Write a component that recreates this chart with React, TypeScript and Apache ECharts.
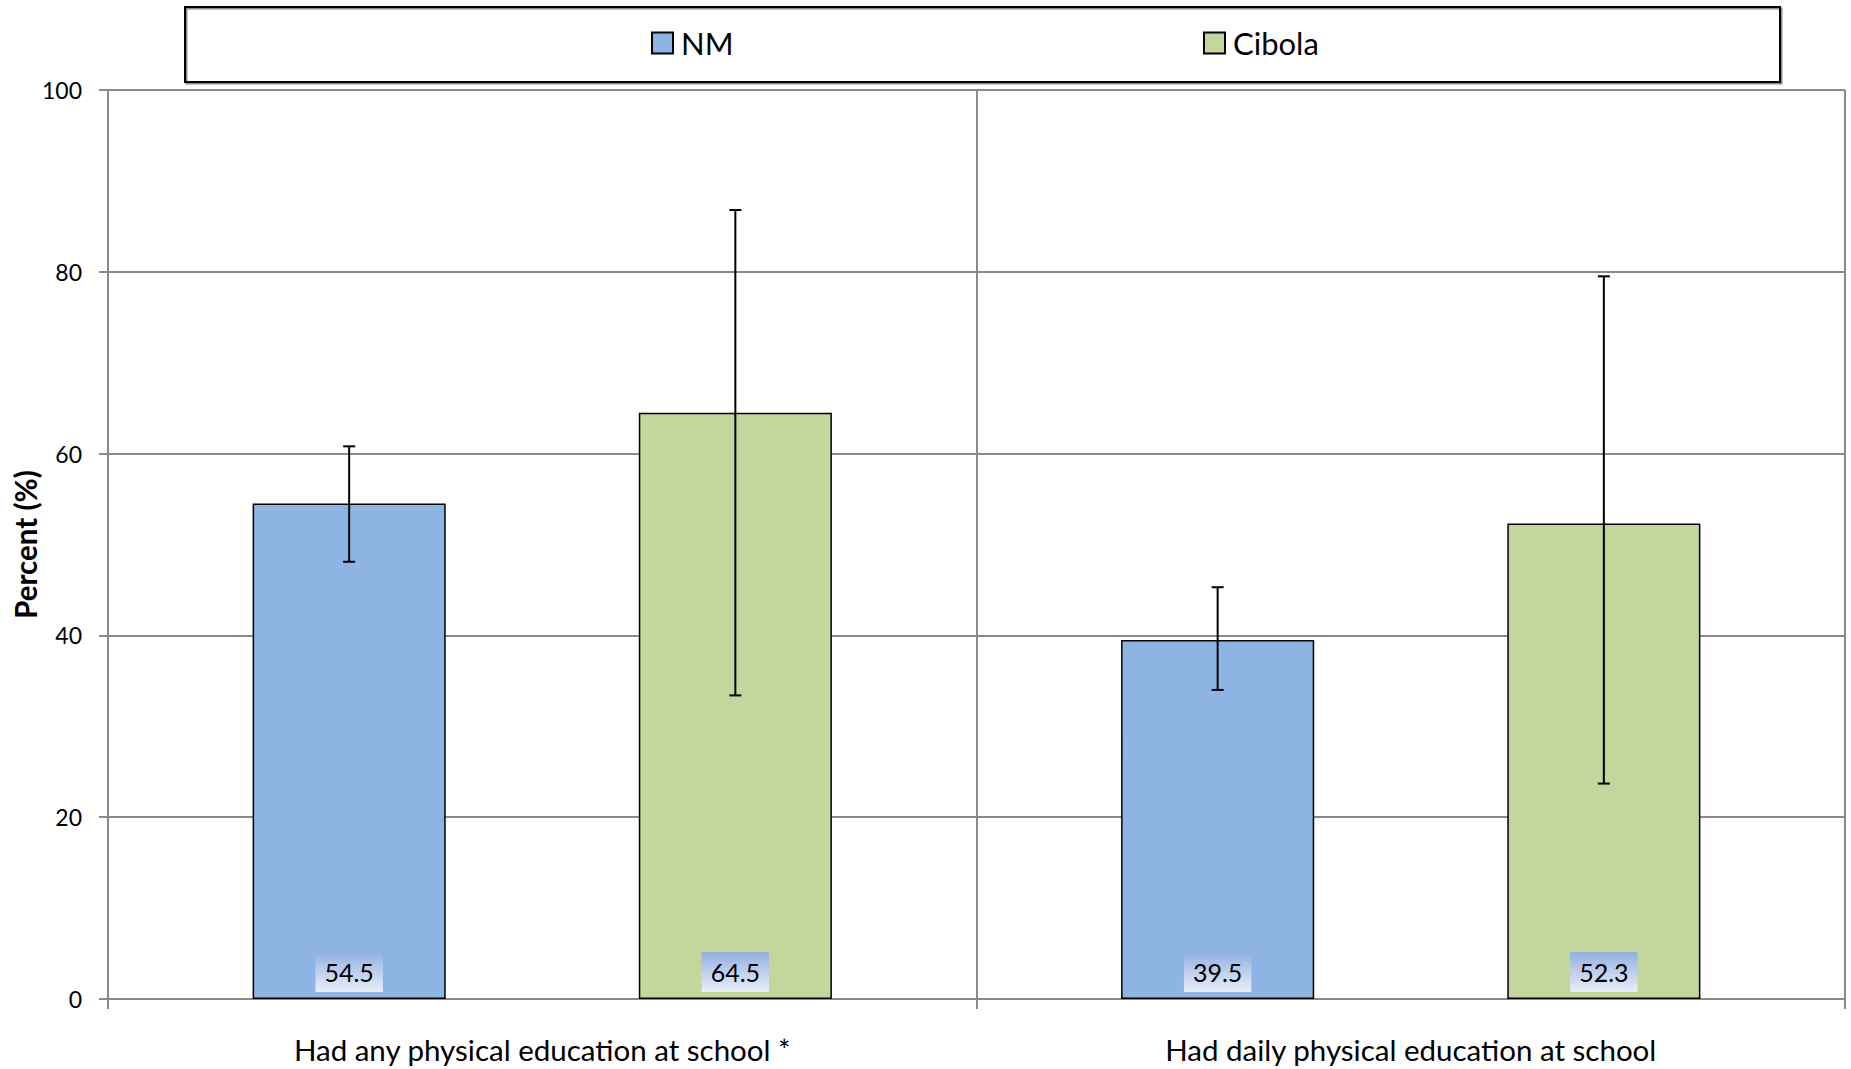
import React, { useEffect, useRef } from "react";
import * as echarts from "echarts";

const categories = [
  "Had any physical education at school *",
  "Had daily physical education at school",
];
const seriesNames = ["NM", "Cibola"];
const nmValues = [54.5, 39.5];
const cibolaValues = [64.5, 52.3];
const nmLow = [48.1, 34.0];
const nmHigh = [60.8, 45.3];
const cibolaLow = [33.4, 23.7];
const cibolaHigh = [86.8, 79.5];
const yTicks = [0, 20, 40, 60, 80, 100];

const NM_COLOR = "#8eb4e3";
const CIBOLA_COLOR = "#c3d69b";
const GRID_COLOR = "#8a8a8a";
const FONT = "Lato";

export default function App() {
  const ref = useRef<HTMLDivElement>(null);

  useEffect(() => {
    document.body.style.margin = "0";
    const chart = echarts.init(ref.current as HTMLDivElement, null, { renderer: "svg" });
    const BAR_CAT_GAP = 0.333;

    const errData: number[][] = [];
    categories.forEach((_, i) => {
      errData.push([i, nmLow[i], nmHigh[i], 0]);
      errData.push([i, cibolaLow[i], cibolaHigh[i], 1]);
    });

    const labelBg = new echarts.graphic.LinearGradient(0, 0, 0, 1, [
      { offset: 0, color: "#93afe1" },
      { offset: 1, color: "#e9eff9" },
    ]);

    const dataLabel = {
      show: true,
      position: "insideBottom",
      distance: 7,
      formatter: (p: any) => Number(p.value).toFixed(1),
      fontFamily: FONT,
      fontSize: 25,
      lineHeight: 26,
      color: "#000",
      padding: [7, 9, 7, 9],
      backgroundColor: labelBg,
    };

    const legendCommon = {
      top: 22,
      icon: "rect",
      itemWidth: 21,
      itemHeight: 21,
      itemStyle: { borderColor: "#000", borderWidth: 2 },
      textStyle: { fontFamily: FONT, fontSize: 31, color: "#000", lineHeight: 32, padding: [0, 0, 0, 3] },
    };

    const option: any = {
      animation: false,
      backgroundColor: "#fff",
      grid: { left: 108, right: 6, top: 90, bottom: 70, containLabel: false, outerBoundsMode: "none" },
      graphic: [
        {
          type: "rect",
          shape: { x: 185, y: 7, width: 1595, height: 75 },
          style: { fill: "none", stroke: "#000", lineWidth: 2, shadowColor: "rgba(0,0,0,0.45)", shadowOffsetX: 1.5, shadowOffsetY: 1.5, shadowBlur: 1 },
          z: 0,
        },
      ],
      legend: [
        { ...legendCommon, data: [seriesNames[0]], left: 646 },
        { ...legendCommon, data: [seriesNames[1]], left: 1198 },
      ],
      xAxis: {
        type: "category",
        data: categories,
        axisLine: { show: true, lineStyle: { color: GRID_COLOR, width: 2 } },
        axisTick: { show: true, length: 10, lineStyle: { color: GRID_COLOR, width: 2 } },
        splitLine: { show: true, lineStyle: { color: GRID_COLOR, width: 2 } },
        axisLabel: { fontFamily: FONT, fontSize: 29.5, color: "#000", margin: 35, interval: 0 },
      },
      yAxis: {
        type: "value",
        min: yTicks[0],
        max: yTicks[yTicks.length - 1],
        interval: yTicks[1] - yTicks[0],
        name: "Percent (%)",
        nameLocation: "middle",
        nameGap: 68,
        nameMoveOverlap: false,
        nameTextStyle: { fontFamily: FONT, fontWeight: "bold", fontSize: 29.5, color: "#000" },
        axisLine: { show: true, lineStyle: { color: GRID_COLOR, width: 2 } },
        axisTick: { show: true, length: 9, lineStyle: { color: GRID_COLOR, width: 2 } },
        splitLine: { show: true, lineStyle: { color: GRID_COLOR, width: 2 } },
        axisLabel: { fontFamily: FONT, fontSize: 23, color: "#000", margin: 26 },
      },
      series: [
        {
          name: seriesNames[0],
          type: "bar",
          data: nmValues,
          barCategoryGap: BAR_CAT_GAP * 100 + "%",
          barGap: "100%",
          itemStyle: { color: NM_COLOR, borderColor: "#000", borderWidth: 1.5 },
          label: dataLabel,
          z: 2,
        },
        {
          name: seriesNames[1],
          type: "bar",
          data: cibolaValues,
          barCategoryGap: BAR_CAT_GAP * 100 + "%",
          barGap: "100%",
          itemStyle: { color: CIBOLA_COLOR, borderColor: "#000", borderWidth: 1.5 },
          label: dataLabel,
          z: 2,
        },
        {
          name: "errors",
          type: "custom",
          data: errData,
          encode: { x: 0, y: [1, 2] },
          z: 5,
          silent: true,
          renderItem: (params: any, api: any) => {
            const idx = api.value(0);
            const lo = api.coord([idx, api.value(1)]);
            const hi = api.coord([idx, api.value(2)]);
            const cw = api.size([1, 0])[0];
            const bw = (cw * (1 - BAR_CAT_GAP)) / 3;
            const off = api.value(3) === 0 ? -bw : bw;
            const x = lo[0] + off;
            const cap = 6;
            const st = { stroke: "#000", lineWidth: 2 };
            return {
              type: "group",
              children: [
                { type: "line", shape: { x1: x, y1: hi[1], x2: x, y2: lo[1] }, style: st },
                { type: "line", shape: { x1: x - cap, y1: hi[1], x2: x + cap, y2: hi[1] }, style: st },
                { type: "line", shape: { x1: x - cap, y1: lo[1], x2: x + cap, y2: lo[1] }, style: st },
              ],
            };
          },
        },
      ],
    };

    chart.setOption(option);
    return () => chart.dispose();
  }, []);

  return (
    <div
      ref={ref}
      style={{ position: "absolute", left: 0, top: 0, width: 1851, height: 1069 }}
    />
  );
}
